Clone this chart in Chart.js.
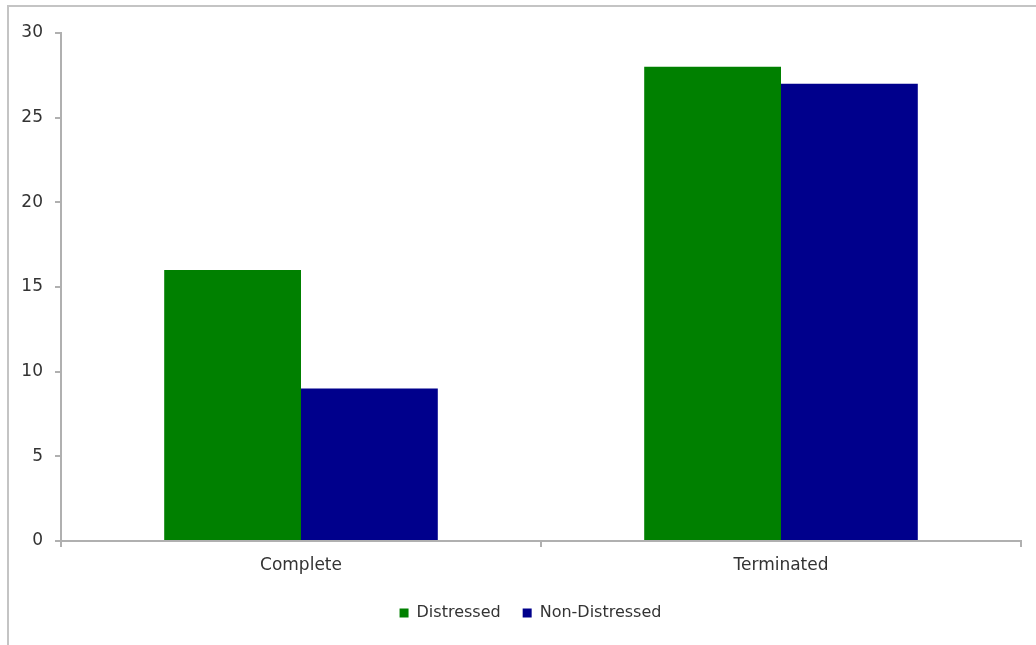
<!DOCTYPE html>
<html>
<head>
<meta charset="utf-8">
<script src="https://cdn.jsdelivr.net/npm/chart.js@4/dist/chart.umd.min.js"></script>
<style>
html,body{margin:0;padding:0;background:#fff;}
#wrap{position:absolute;left:0;top:0;width:1036px;height:645px;}
#frame{position:absolute;left:7px;top:5px;width:1040px;height:650px;border-left:2px solid #c4c4c4;border-top:2px solid #c4c4c4;pointer-events:none;}
</style>
</head>
<body>
<div id="wrap"><canvas id="c" width="1036" height="645"></canvas></div>
<div id="frame"></div>
<script>
const categories = ["Complete", "Terminated"];
const distressed = [16, 28];
const nonDistressed = [9, 27];
const seriesNames = ["Distressed", "Non-Distressed"];

const FONT = "'DejaVu Sans', sans-serif";
const shiftLegend = {
  id: 'shiftLegend',
  afterLayout(chart) {
    if (chart.legend) { chart.legend.left += 20; chart.legend.right += 20; }
  }
};
new Chart(document.getElementById('c'), {
  type: 'bar',
  data: {
    labels: categories,
    datasets: [
      {label: seriesNames[0], data: distressed, backgroundColor: '#008000', borderWidth: 0},
      {label: seriesNames[1], data: nonDistressed, backgroundColor: '#00008c', borderWidth: 0}
    ]
  },
  plugins: [shiftLegend],
  options: {
    responsive: false,
    animation: false,
    categoryPercentage: 0.57,
    barPercentage: 1.0,
    layout: {padding: {left: 0, right: 15, top: 33, bottom: 14}},
    plugins: {
      tooltip: {enabled: false},
      legend: {
        position: 'bottom',
        labels: {
          boxWidth: 9, boxHeight: 9, padding: 22,
          color: '#333',
          font: {family: FONT, size: 16}
        }
      }
    },
    scales: {
      x: {
        afterFit: function(s){ s.height = 42; },
        grid: {display: true, drawOnChartArea: false, drawTicks: true, tickLength: 6, color: '#b0b0b0', lineWidth: 2, offset: true},
        border: {display: true, color: '#b0b0b0', width: 2},
        ticks: {color: '#333', font: {family: FONT, size: 17}, padding: 8}
      },
      y: {
        min: 0, max: 30,
        afterFit: function(s){ s.width = 61; },
        grid: {display: true, drawOnChartArea: false, drawTicks: true, tickLength: 6, color: '#b0b0b0', lineWidth: 2},
        border: {display: true, color: '#b0b0b0', width: 2},
        ticks: {stepSize: 5, color: '#333', font: {family: FONT, size: 17}, padding: 12}
      }
    }
  }
});
</script>
</body>
</html>
